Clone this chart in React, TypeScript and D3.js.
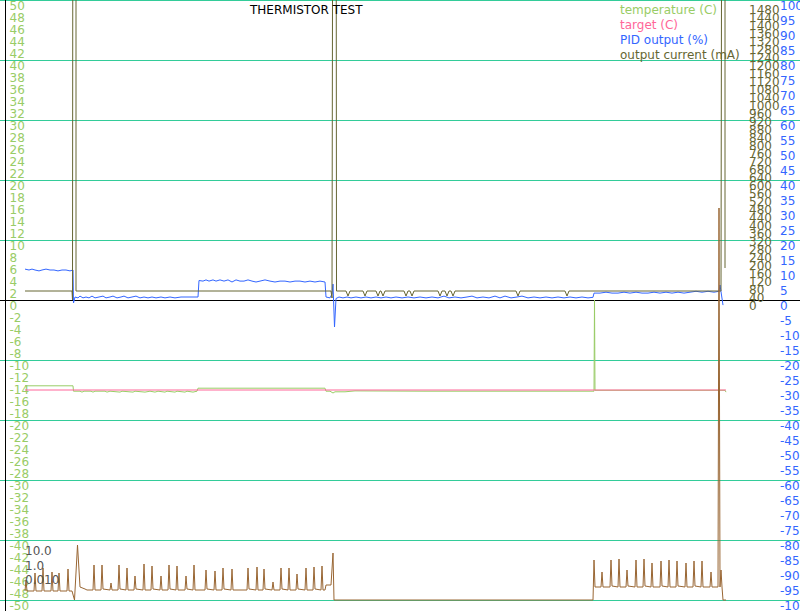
import * as d3 from "d3";

const WIDTH = 800;
const HEIGHT = 611;
const FONT = "DejaVu Sans, sans-serif";

const GRID = "#33cc99";
const C_TEMP = "#99cc66";
const C_TARGET = "#ff6699";
const C_PID = "#3366ff";
const C_CURRENT = "#666633";
const C_LOOP = "#996633";

const title = "THERMISTOR TEST";
const legendLabels = ["temperature (C)", "target (C)", "PID output (%)", "output current (mA)"];
const legendColors = [C_TEMP, C_TARGET, C_PID, C_CURRENT];

// log labels of the loop-time trace at the bottom left
const loopLabels = ["10.0", "1.0", "0.010"];
const currentTicks = d3.range(0, 1481, 40);

// time is in samples, [t, value]
const tempData: [number, number][] = [
  [0, -14.3], [48, -14.3], [48.5, -15.2], [55, -15.2], [57, -15.35], [59, -15.2], [66, -15.2],
  [68, -15.35], [70, -15.2], [80, -15.2], [82, -15.35], [85, -15.2], [95, -15.35], [97, -15.2],
  [108, -15.35], [110, -15.2], [120, -15.35], [125, -15.2], [130, -15.35], [133, -15.2],
  [140, -15.35], [142, -15.2], [150, -15.35], [152, -15.2], [160, -15.35], [162, -15.2],
  [168, -15.35], [172, -15.2], [173, -14.7], [300, -14.7], [301, -15.2], [305, -15.2],
  [308, -15.5], [310, -15.3], [320, -15.3], [330, -15.15], [400, -15.2], [480, -15.2],
  [569, -15.2], [569.5, 0], [570, -15.05], [700, -15.05], [701, -15.35],
];

const targetData: [number, number][] = [[0, -15], [701, -15]];

const pidData: [number, number][] = [
  [0, 10.3], [4, 10.0], [7, 10.3], [10, 10.0], [14, 9.7], [17, 10.0], [21, 10.3], [25, 10.0],
  [29, 10.0], [33, 9.7], [37, 10.0], [41, 10.0], [45, 9.7], [48, 10.0], [48.5, -1.0],
  [50, 1.0], [53, 0.7], [55, 1.3], [58, 0.7], [61, 1.0], [64, 0.7], [67, 1.3], [70, 0.7],
  [74, 1.0], [78, 1.3], [81, 0.7], [85, 1.0], [88, 1.3], [92, 0.7], [96, 1.0], [99, 1.3],
  [103, 0.7], [107, 1.0], [111, 1.3], [115, 0.7], [119, 1.0], [123, 0.7], [127, 1.0],
  [131, 0.7], [136, 1.0], [140, 0.7], [145, 1.0], [150, 0.7], [156, 1.0], [162, 1.0],
  [168, 1.0], [173, 1.0], [174, 6.5], [178, 6.3], [181, 6.7], [184, 6.3], [188, 6.7],
  [191, 6.3], [195, 6.7], [199, 6.3], [203, 6.7], [207, 6.0], [211, 6.7], [215, 6.3],
  [219, 6.3], [223, 6.7], [227, 6.3], [231, 6.0], [235, 6.3], [240, 6.7], [245, 6.3],
  [250, 6.0], [255, 6.3], [260, 6.3], [265, 6.0], [270, 6.3], [275, 6.3], [280, 6.0],
  [285, 6.3], [290, 6.0], [295, 6.3], [300, 6.0], [301, 1.0], [305, 0.7], [307, 2.0],
  [308, 5.3], [309.5, -9.0], [311, 0.5], [314, 1.0], [318, 0.7], [322, 1.0], [326, 0.7],
  [331, 1.0], [336, 0.7], [341, 1.0], [346, 0.7], [351, 1.0], [356, 0.7], [361, 1.0],
  [366, 0.7], [371, 1.0], [377, 0.7], [383, 1.0], [389, 0.7], [395, 1.0], [401, 0.7],
  [407, 1.0], [413, 0.7], [419, 1.3], [424, 0.7], [430, 1.0], [436, 0.7], [442, 1.0],
  [447, 1.3], [452, 0.7], [458, 1.0], [464, 0.7], [470, 1.3], [475, 0.7], [480, 1.3],
  [486, 0.7], [492, 1.0], [497, 1.3], [503, 0.7], [509, 1.0], [515, 0.7], [521, 1.0],
  [527, 0.7], [533, 1.0], [539, 0.7], [545, 1.0], [551, 0.7], [557, 1.0], [563, 0.7],
  [568, 0.9], [569, 2.3], [575, 2.3], [581, 2.6], [587, 2.3], [593, 2.3], [599, 2.6],
  [605, 2.3], [611, 2.6], [617, 2.3], [623, 2.3], [629, 2.6], [635, 2.3], [641, 2.6],
  [647, 2.3], [653, 2.6], [659, 2.3], [665, 2.6], [671, 2.9], [677, 2.6], [683, 2.9],
  [689, 2.6], [694, 2.9], [695, 5.0], [698, -1.7],
];

const currentData: [number, number][] = [
  [0, 45], [47, 45], [47.5, 0], [48, 3000], [51, 3000], [51, 45], [306, 45], [307, 10],
  [308, 3000], [311, 3000], [311.5, 45], [321, 45], [323, 20], [325, 45], [338, 45],
  [340, 20], [342, 45], [351, 45], [353, 20], [355, 45], [356, 45], [358, 20], [360, 45],
  [379, 45], [381, 20], [383, 45], [385, 45], [387, 20], [389, 45], [413, 45], [415, 20],
  [417, 45], [420, 45], [422, 20], [424, 45], [426, 45], [428, 20], [430, 45], [491, 45],
  [493, 20], [495, 45], [540, 45], [542, 20], [544, 45], [696, 45], [697, 3000],
  [700, 3000], [700, 160],
];

const loopData: [number, number][] = [
  [0, 9], [1, 20], [2, 9], [9, 9], [10, 27], [11, 9], [17, 9], [18, 32], [19, 9],
  [26, 9], [27, 28], [28, 9], [33, 9], [34, 27], [35, 9], [42, 9], [43, 31], [44, 9],
  [47, 9], [49.5, 0], [52.5, 55], [55, 13], [60, 11], [62, 10],
  [68, 10], [69, 35], [70, 10], [76, 10], [77, 35], [78, 11], [85, 10], [86, 17], [87, 10],
  [93, 10], [94, 35], [95, 11], [101, 10], [102, 32], [103, 10], [109, 10], [110, 24],
  [111, 11], [118, 10], [119, 36], [120, 10], [126, 10], [127, 34], [128, 11],
  [135, 10], [136, 24], [137, 10], [143, 10], [144, 35], [145, 11], [151, 10], [152, 34],
  [153, 10], [160, 10], [161, 24], [162, 11], [168, 10], [169, 35], [170, 10],
  [180, 10], [181, 30], [182, 11], [189, 10], [190, 29], [191, 10], [197, 10], [198, 32],
  [199, 11], [206, 10], [207, 31], [208, 10], [222, 10], [223, 32], [224, 11],
  [231, 10], [232, 33], [233, 10], [238, 10], [239, 31], [240, 11], [247, 10], [248, 18],
  [249, 10], [255, 10], [256, 32], [257, 11], [263, 10], [264, 32], [265, 10],
  [271, 10], [272, 26], [273, 11], [280, 10], [281, 32], [282, 10], [288, 10], [289, 33],
  [290, 11], [296, 10], [297, 34], [298, 10], [300, 10], [301, 15], [306, 15], [308, 47],
  [309, 0], [568, 0], [569, 40], [570, 13], [576, 13], [577, 28], [578, 13], [585, 13],
  [586, 40], [587, 14], [593, 13], [594, 41], [595, 13], [601, 13], [602, 30], [603, 14],
  [610, 13], [611, 40], [612, 13], [618, 13], [619, 41], [620, 14], [626, 13], [627, 37],
  [628, 13], [635, 13], [636, 39], [637, 14], [643, 13], [644, 40], [645, 13],
  [651, 13], [652, 39], [653, 14], [660, 13], [661, 37], [662, 13], [668, 13], [669, 39],
  [670, 14], [676, 13], [677, 39], [678, 13], [685, 13], [686, 28], [687, 13],
  [693, 13], [694, 392], [695, 13], [696, 30], [697, 13], [698, 0], [701, 0],
];

export default function App() {
  const x = d3.scaleLinear().domain([0, 700]).range([25, 725]);
  const yTemp = d3.scaleLinear().domain([-50, 50]).range([600, 0]);
  const yPid = d3.scaleLinear().domain([-100, 100]).range([600, 0]);
  const yCur = d3.scaleLinear().domain([0, 1500]).range([300, 0]);
  const yLoop = d3.scaleLinear().domain([0, 600]).range([600, 0]);
  const yLoopLabel = d3.scalePoint<string>().domain(loopLabels).range([555, 584]);

  const lineFor = (ys: d3.ScaleLinear<number, number>) =>
    d3.line<[number, number]>().x((d) => x(d[0])).y((d) => ys(d[1]));

  const gridValues = yTemp.ticks(10).filter((v) => v !== 0);

  return (
    <svg
      width={WIDTH}
      height={HEIGHT}
      style={{ position: "absolute", left: 0, top: 0, background: "white" }}
      fontFamily={FONT}
      fontSize={12}
    >
      {gridValues.map((v) => (
        <line key={v} x1={0} x2={WIDTH} y1={yTemp(v) + 0.5} y2={yTemp(v) + 0.5} stroke={GRID} />
      ))}
      <line x1={0} x2={WIDTH} y1={yTemp(0) + 0.5} y2={yTemp(0) + 0.5} stroke="black" />
      <line x1={5.5} x2={5.5} y1={0} y2={HEIGHT} stroke="black" />

      {/* left axis: temperature */}
      {yTemp.ticks(50).map((v) => (
        <text key={v} x={9.5} y={yTemp(v) + 9.5} fill={C_TEMP}>
          {v}
        </text>
      ))}
      {/* output current axis */}
      {currentTicks.map((v) => (
        <text key={v} x={749} y={yCur(v) + 9.5} fill={C_CURRENT}>
          {v}
        </text>
      ))}
      {/* PID axis */}
      {yPid.ticks(40).map((v) => (
        <text key={v} x={780} y={yPid(v) + 9.5} fill={C_PID}>
          {v}
        </text>
      ))}

      <path d={lineFor(yTemp)(tempData) ?? ""} fill="none" stroke={C_TEMP} />
      <path d={lineFor(yTemp)(targetData) ?? ""} fill="none" stroke={C_TARGET} />
      <path d={lineFor(yPid)(pidData) ?? ""} fill="none" stroke={C_PID} />
      <path d={lineFor(yCur)(currentData) ?? ""} fill="none" stroke={C_CURRENT} />
      <path d={lineFor(yLoop)(loopData) ?? ""} fill="none" stroke={C_LOOP} />

      {loopLabels.map((l) => (
        <text key={l} x={25} y={yLoopLabel(l)} fill="#555555">
          {l}
        </text>
      ))}

      <text x={250} y={14} fill="black">
        {title}
      </text>
      {legendLabels.map((l, i) => (
        <text key={l} x={620} y={14 + i * 15} fill={legendColors[i]}>
          {l}
        </text>
      ))}
    </svg>
  );
}
